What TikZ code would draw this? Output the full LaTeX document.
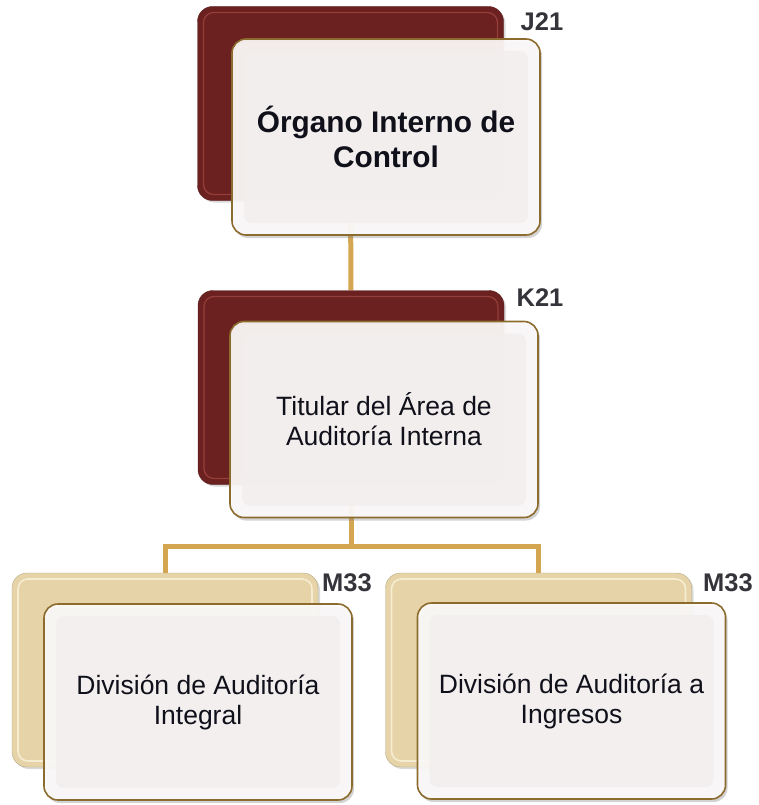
\documentclass[tikz,border=0pt]{standalone}
\usepackage{fontspec}
\setmainfont{Liberation Sans}
\usetikzlibrary{
  positioning,
  backgrounds,
  shadows
}
\definecolor{wine}{RGB}{107,33,31}
\definecolor{winelight}{RGB}{150,62,60}
\definecolor{sand}{RGB}{230,212,168}
\definecolor{sandlight}{RGB}{246,236,210}
\definecolor{frame}{RGB}{140,107,46}
\definecolor{gold}{RGB}{212,166,82}
\definecolor{paper}{RGB}{252,250,249}
\definecolor{panel}{RGB}{242,239,238}
\definecolor{ink}{RGB}{16,16,26}
\definecolor{tagink}{RGB}{52,52,58}

\tikzset{
  backbox/.style={rounded corners=15pt, minimum width=306pt, minimum height=194pt,
    drop shadow={shadow xshift=2pt, shadow yshift=-2pt, opacity=0.3}},
  winebox/.style={backbox, fill=wine, draw=wine!80!black,
    path picture={\draw[winelight, line width=1.2pt, rounded corners=10pt]
      ([shift={(6pt,-6pt)}]path picture bounding box.north west) rectangle
      ([shift={(-6pt,6pt)}]path picture bounding box.south east);}},
  sandbox/.style={backbox, fill=sand, draw=sand!80!black,
    path picture={\draw[sandlight, line width=1.6pt, rounded corners=10pt]
      ([shift={(6pt,-6pt)}]path picture bounding box.north west) rectangle
      ([shift={(-6pt,6pt)}]path picture bounding box.south east);}},
  frontbox/.style={rounded corners=14pt, draw=frame, line width=1.6pt, fill=paper,
    fill opacity=0.93, text opacity=1, text=ink, align=center,
    minimum width=308pt, minimum height=196pt,
    font=\fontsize{26.5}{30}\selectfont,
    drop shadow={shadow xshift=2pt, shadow yshift=-3pt, opacity=0.35},
    path picture={\fill[panel, rounded corners=8pt]
      ([shift={(12pt,-12pt)}]path picture bounding box.north west) rectangle
      ([shift={(-12pt,12pt)}]path picture bounding box.south east);}},
  tag/.style={font=\fontsize{25.5}{25.5}\selectfont\bfseries, text=tagink},
  link/.style={draw=gold, line width=5pt}
}

\begin{document}
\begin{tikzpicture}[x=1pt, y=-1pt]
  \useasboundingbox (0,0) rectangle (759,805);

  % back boxes
  \node[winebox] (jback) at (350.5,103.5) {};
  \node[winebox] (kback) at (351,387.5) {};
  \node[sandbox] (mlback) at (165,670) {};
  \node[sandbox] (mrback) at (538.5,670) {};

  % front boxes
  \node[frontbox, font=\fontsize{29.8}{35}\selectfont\bfseries] (jfront) at ([shift={(35.5,33.5)}]jback.center) {Órgano Interno de\\Control};
  \node[frontbox] (kfront) at ([shift={(33,32)}]kback.center) {Titular del Área de\\Auditoría Interna};
  \node[frontbox] (mlfront) at ([shift={(33,32)}]mlback.center) {División de Auditoría\\Integral};
  \node[frontbox] (mrfront) at ([shift={(33,31)}]mrback.center) {División de Auditoría a\\Ingresos};

  % codes
  \node[tag] (jtag) at (542,22) {J21};
  \node[tag] (ktag) at (540,298) {K21};
  \node[tag] (mltag) at (347,583) {M33};
  \node[tag] (mrtag) at (728,583) {M33};

  % connectors
  \begin{pgfonlayer}{background}
    \draw[link] (jback) -- (kback);
    \draw[link] (kback.south) -- ++(0,62) coordinate (bus);
    \draw[link] (bus) -| (mlback);
    \draw[link] (bus) -| (mrback);
  \end{pgfonlayer}
\end{tikzpicture}
\end{document}
